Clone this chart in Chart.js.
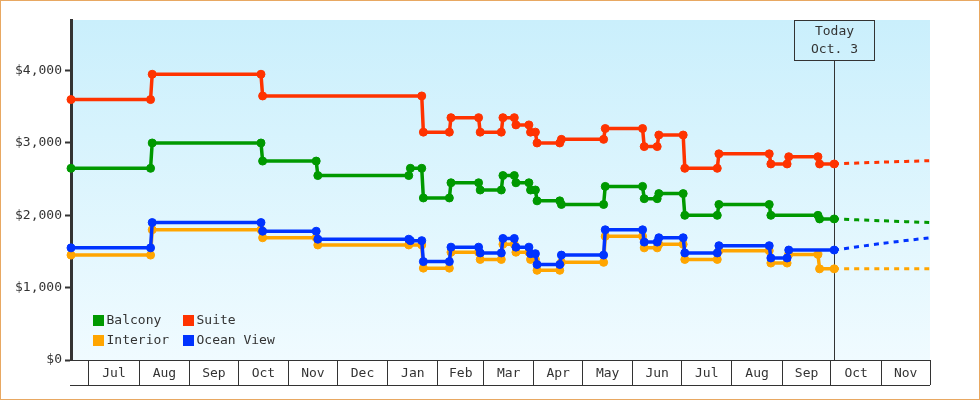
<!DOCTYPE html>
<html>
<head>
<meta charset="UTF-8">
<title>Cruise fare history</title>
<script src="https://cdn.jsdelivr.net/npm/chart.js"></script>
<style>
  html, body { margin: 0; padding: 0; background: #fff; }
  #wrap { width: 980px; height: 400px; }
</style>
</head>
<body>
<div id="wrap"><canvas id="fareChart" width="980" height="400"></canvas></div>
<script>
  // ---- data ----
  const axisStart = '2018-06-20';
  const axisEnd = '2019-12-01';
  const todayDate = '2019-10-03';
  const todayText = ['Today', 'Oct. 3'];

  const monthLabels = ['Jul', 'Aug', 'Sep', 'Oct', 'Nov', 'Dec', 'Jan', 'Feb', 'Mar',
                       'Apr', 'May', 'Jun', 'Jul', 'Aug', 'Sep', 'Oct', 'Nov'];
  const firstMonth = '2018-07';
  const yTicks = [0, 1000, 2000, 3000, 4000];
  const yMax = 4700;

  const seriesNames = ['Balcony', 'Suite', 'Interior', 'Ocean View'];
  const seriesColors = ['#009900', '#ff3300', '#ffa500', '#0033ff'];

  const balconyDates = ['2018-06-20', '2018-08-08', '2018-08-09', '2018-10-15', '2018-10-16',
    '2018-11-18', '2018-11-19', '2019-01-14', '2019-01-15', '2019-01-22', '2019-01-23',
    '2019-02-08', '2019-02-09', '2019-02-26', '2019-02-27', '2019-03-12', '2019-03-13',
    '2019-03-20', '2019-03-21', '2019-03-29', '2019-03-30', '2019-04-02', '2019-04-03',
    '2019-04-17', '2019-04-18', '2019-05-14', '2019-05-15', '2019-06-07', '2019-06-08',
    '2019-06-16', '2019-06-17', '2019-07-02', '2019-07-03', '2019-07-23', '2019-07-24',
    '2019-08-24', '2019-08-25', '2019-09-23', '2019-09-24', '2019-10-03'];
  const balconyFares = [2650, 2650, 3000, 3000, 2750,
    2750, 2550, 2550, 2650, 2650, 2240,
    2240, 2450, 2450, 2350, 2350, 2550,
    2550, 2450, 2450, 2350, 2350, 2200,
    2200, 2150, 2150, 2400, 2400, 2230,
    2230, 2300, 2300, 2000, 2000, 2150,
    2150, 2000, 2000, 1950, 1950];

  const suiteDates = ['2018-06-20', '2018-08-08', '2018-08-09', '2018-10-15', '2018-10-16',
    '2019-01-22', '2019-01-23', '2019-02-08', '2019-02-09', '2019-02-26', '2019-02-27',
    '2019-03-12', '2019-03-13', '2019-03-20', '2019-03-21', '2019-03-29', '2019-03-30',
    '2019-04-02', '2019-04-03', '2019-04-17', '2019-04-18', '2019-05-14', '2019-05-15',
    '2019-06-07', '2019-06-08', '2019-06-16', '2019-06-17', '2019-07-02', '2019-07-03',
    '2019-07-23', '2019-07-24', '2019-08-24', '2019-08-25', '2019-09-04', '2019-09-05',
    '2019-09-23', '2019-09-24', '2019-10-03'];
  const suiteFares = [3600, 3600, 3950, 3950, 3650,
    3650, 3150, 3150, 3350, 3350, 3150,
    3150, 3350, 3350, 3250, 3250, 3150,
    3150, 3000, 3000, 3050, 3050, 3200,
    3200, 2950, 2950, 3110, 3110, 2650,
    2650, 2850, 2850, 2710, 2710, 2810,
    2810, 2710, 2710];

  const interiorDates = ['2018-06-20', '2018-08-08', '2018-08-09', '2018-10-15', '2018-10-16',
    '2018-11-18', '2018-11-19', '2019-01-14', '2019-01-22', '2019-01-23',
    '2019-02-08', '2019-02-09', '2019-02-26', '2019-02-27', '2019-03-12', '2019-03-13',
    '2019-03-20', '2019-03-21', '2019-03-29', '2019-03-30', '2019-04-02', '2019-04-03',
    '2019-04-17', '2019-04-18', '2019-05-14', '2019-05-15', '2019-06-07', '2019-06-08',
    '2019-06-16', '2019-06-17', '2019-07-02', '2019-07-03', '2019-07-23', '2019-07-24',
    '2019-08-24', '2019-08-25', '2019-09-04', '2019-09-05', '2019-09-23', '2019-09-24',
    '2019-10-03'];
  const interiorFares = [1450, 1450, 1800, 1800, 1690,
    1690, 1590, 1590, 1590, 1270,
    1270, 1490, 1490, 1390, 1390, 1600,
    1600, 1490, 1490, 1390, 1390, 1240,
    1240, 1350, 1350, 1710, 1710, 1550,
    1550, 1600, 1600, 1390, 1390, 1510,
    1510, 1340, 1340, 1460, 1460, 1260,
    1260];

  const oceanDates = ['2018-06-20', '2018-08-08', '2018-08-09', '2018-10-15', '2018-10-16',
    '2018-11-18', '2018-11-19', '2019-01-14', '2019-01-15', '2019-01-22', '2019-01-23',
    '2019-02-08', '2019-02-09', '2019-02-26', '2019-02-27', '2019-03-12', '2019-03-13',
    '2019-03-20', '2019-03-21', '2019-03-29', '2019-03-30', '2019-04-02', '2019-04-03',
    '2019-04-17', '2019-04-18', '2019-05-14', '2019-05-15', '2019-06-07', '2019-06-08',
    '2019-06-16', '2019-06-17', '2019-07-02', '2019-07-03', '2019-07-23', '2019-07-24',
    '2019-08-24', '2019-08-25', '2019-09-04', '2019-09-05', '2019-10-03'];
  const oceanFares = [1550, 1550, 1900, 1900, 1780,
    1780, 1670, 1670, 1650, 1650, 1360,
    1360, 1560, 1560, 1480, 1480, 1680,
    1680, 1560, 1560, 1470, 1470, 1320,
    1320, 1450, 1450, 1800, 1800, 1630,
    1630, 1690, 1690, 1480, 1480, 1580,
    1580, 1410, 1410, 1520, 1520];

  // forecast after today (dotted)
  const forecastDates = ['2019-10-03', '2019-11-01', '2019-12-01'];
  const balconyForecast = [1950, 1925, 1900];
  const suiteForecast = [2710, 2735, 2755];
  const interiorForecast = [1260, 1260, 1260];
  const oceanForecast = [1520, 1610, 1690];

  // ---- helpers ----
  const base = Date.parse('2018-07-01T00:00:00Z');
  function toDay(s) { return (Date.parse(s + 'T00:00:00Z') - base) / 86400000; }
  function pts(dates, vals) { return dates.map((d, i) => ({ x: toDay(d), y: vals[i] })); }

  const FONT = { family: "'DejaVu Sans Mono', monospace", size: 13 };
  const INK = '#333333';

  // month boundaries + month-center label positions
  const tickDefs = [];
  const [fy, fm] = firstMonth.split('-').map(Number);
  for (let i = 0; i <= monthLabels.length; i++) {
    const a = Date.UTC(fy, fm - 1 + i, 1);
    tickDefs.push({ value: (a - base) / 86400000, label: '', boundary: true });
    if (i < monthLabels.length) {
      const b = Date.UTC(fy, fm + i, 1);
      tickDefs.push({ value: ((a + b) / 2 - base) / 86400000, label: monthLabels[i], boundary: false });
    }
  }

  const actual = [
    pts(balconyDates, balconyFares),
    pts(suiteDates, suiteFares),
    pts(interiorDates, interiorFares),
    pts(oceanDates, oceanFares)
  ];
  const forecast = [balconyForecast, suiteForecast, interiorForecast, oceanForecast]
    .map(v => pts(forecastDates, v));
  const drawOrder = [3, 2, 1, 0]; // ocean view on top of interior

  const datasets = [];
  seriesNames.forEach((name, i) => {
    datasets.push({
      label: name,
      data: actual[i],
      borderColor: seriesColors[i],
      backgroundColor: seriesColors[i],
      borderWidth: 3.5,
      pointRadius: 4,
      pointBorderWidth: 1,
      pointHoverRadius: 4,
      tension: 0,
      clip: false,
      order: drawOrder[i]
    });
  });
  seriesNames.forEach((name, i) => {
    datasets.push({
      label: name + ' forecast',
      data: forecast[i],
      borderColor: seriesColors[i],
      borderWidth: 3,
      borderDash: [5, 5],
      pointRadius: 0,
      tension: 0.3,
      clip: false,
      order: 4 + drawOrder[i]
    });
  });

  const frame = {
    id: 'frame',
    beforeDraw(chart) {
      const { ctx, chartArea: a, width, height } = chart;
      ctx.save();
      ctx.fillStyle = '#ffffff';
      ctx.fillRect(0, 0, width, height);
      const g = ctx.createLinearGradient(0, a.top, 0, a.bottom);
      g.addColorStop(0, '#caeffc');
      g.addColorStop(1, '#f0fbff');
      ctx.fillStyle = g;
      ctx.fillRect(a.left, a.top, a.right - a.left, a.bottom - a.top);
      ctx.strokeStyle = '#e8a862';
      ctx.lineWidth = 1;
      ctx.strokeRect(0.5, 0.5, width - 1, height - 1);
      ctx.restore();
    },
    beforeDatasetsDraw(chart) {
      const { ctx, chartArea: a, scales } = chart;
      const x = Math.round(scales.x.getPixelForValue(toDay(todayDate))) + 0.5;
      const boxW = 80, boxH = 40;
      ctx.save();
      ctx.strokeStyle = INK;
      ctx.lineWidth = 1;
      ctx.beginPath();
      ctx.moveTo(x, a.top + boxH);
      ctx.lineTo(x, a.bottom);
      ctx.stroke();
      ctx.strokeRect(x - boxW / 2, a.top + 0.5, boxW, boxH);
      ctx.fillStyle = INK;
      ctx.font = FONT.size + 'px ' + FONT.family;
      ctx.textAlign = 'center';
      ctx.textBaseline = 'middle';
      ctx.fillText(todayText[0], x, a.top + 12);
      ctx.fillText(todayText[1], x, a.top + 30);
      ctx.restore();
    },
    afterDraw(chart) {
      const { ctx, chartArea: a } = chart;
      ctx.save();
      // bottom edge of the month boxes
      ctx.strokeStyle = INK;
      ctx.lineWidth = 1;
      ctx.beginPath();
      ctx.moveTo(a.left - 1, a.bottom + 25.5);
      ctx.lineTo(a.right, a.bottom + 25.5);
      ctx.stroke();
      // legend inside the plot, bottom left
      ctx.font = FONT.size + 'px ' + FONT.family;
      ctx.textBaseline = 'middle';
      ctx.textAlign = 'left';
      seriesNames.forEach((name, i) => {
        const col = i % 2, row = Math.floor(i / 2);
        const lx = a.left + 22 + col * 90;
        const ly = a.bottom - 45 + row * 20;
        ctx.fillStyle = seriesColors[i];
        ctx.fillRect(lx, ly, 11, 11);
        ctx.fillStyle = INK;
        ctx.fillText(name, lx + 13.5, ly + 6);
      });
      ctx.restore();
    }
  };

  new Chart(document.getElementById('fareChart'), {
    type: 'line',
    data: { datasets },
    options: {
      responsive: false,
      animation: false,
      events: [],
      layout: { padding: { left: 0, right: 50, top: 20, bottom: 15 } },
      plugins: { legend: { display: false }, tooltip: { enabled: false } },
      scales: {
        x: {
          type: 'linear',
          min: toDay(axisStart),
          max: toDay(axisEnd),
          afterBuildTicks: s => { s.ticks = tickDefs.map(t => ({ value: t.value })); },
          afterFit: s => { s.height = 25; },
          ticks: {
            autoSkip: false, maxRotation: 0, minRotation: 0,
            padding: -19.5, font: FONT, color: INK,
            callback: (v, i) => tickDefs[i] ? tickDefs[i].label : ''
          },
          grid: {
            drawOnChartArea: false, tickLength: 25, lineWidth: 1,
            color: c => (tickDefs[c.index] && tickDefs[c.index].boundary) ? INK : 'rgba(0,0,0,0)'
          },
          border: { display: true, color: INK, width: 1 }
        },
        y: {
          min: 0,
          max: yMax,
          afterBuildTicks: s => { s.ticks = yTicks.map(v => ({ value: v })); },
          afterFit: s => { s.width = 71; },
          ticks: {
            autoSkip: false, padding: 3,
            font: FONT, color: INK,
            callback: v => '$' + v.toLocaleString('en-US')
          },
          grid: { drawOnChartArea: false, tickLength: 6, tickWidth: 2, tickColor: INK },
          border: { display: true, color: INK, width: 3 }
        }
      }
    },
    plugins: [frame]
  });
</script>
</body>
</html>
